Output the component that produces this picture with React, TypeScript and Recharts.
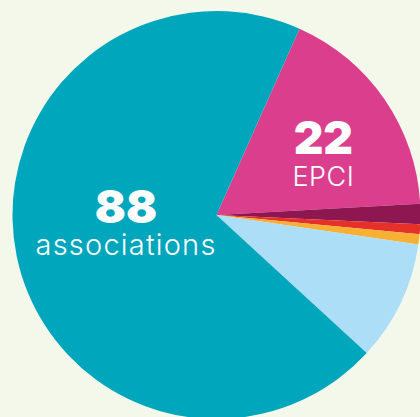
import React from "react";
import { PieChart, Pie, Cell } from "recharts";

const categories = ["EPCI", "Catégorie 2", "Catégorie 3", "Catégorie 4", "Catégorie 5", "associations"];
const values = [22, 2, 1, 1, 12, 88];
const colors = ["#dc3e8e", "#8e1752", "#e5312a", "#f7b033", "#addef8", "#00a6bb"];
const showLabel = [true, false, false, false, false, true];

const data = categories.map((name, i) => ({ name, value: values[i] }));

// label placement: fraction of radius and angle tweak relative to slice mid angle
const labelLayout: Record<string, { r: number; da: number; size: number; spacing: number }> = {
  EPCI: { r: 0.603, da: -4.9, size: 27, spacing: 0.5 },
  associations: { r: 0.445, da: -6.7, size: 29, spacing: 1.2 },
};

const RADIAN = Math.PI / 180;

const renderLabel = (props: any) => {
  const { cx, cy, midAngle, outerRadius, index } = props;
  if (!showLabel[index]) return null;
  const name = categories[index];
  const lay = labelLayout[name];
  const ang = (midAngle + lay.da) * RADIAN;
  const R = outerRadius * lay.r;
  const x = cx + R * Math.cos(-ang);
  const y = cy + R * Math.sin(-ang);
  return (
    <g>
      <text
        x={x}
        y={y}
        textAnchor="middle"
        fill="#ffffff"
        style={{ fontFamily: "Inter, sans-serif", fontWeight: 900, fontSize: 46 }}
      >
        {values[index]}
      </text>
      <text
        x={x}
        y={y + 32}
        textAnchor="middle"
        fill="#ffffff"
        style={{
          fontFamily: "Inter, sans-serif",
          fontWeight: 300,
          fontSize: lay.size,
          letterSpacing: lay.spacing,
        }}
      >
        {name}
      </text>
    </g>
  );
};

export default function App() {
  return (
    <div
      style={{
        position: "absolute",
        left: 0,
        top: 0,
        width: 420,
        height: 417,
        background: "#f4f8eb",
        overflow: "hidden",
      }}
    >
      <PieChart width={420} height={417} margin={{ top: 0, right: 0, bottom: 0, left: 0 }}>
        <Pie
          data={data}
          dataKey="value"
          nameKey="name"
          cx={216.5}
          cy={215}
          outerRadius={204}
          startAngle={66}
          endAngle={-294}
          stroke="none"
          isAnimationActive={false}
          labelLine={false}
          label={renderLabel}
        >
          {data.map((d, i) => (
            <Cell key={d.name} fill={colors[i]} />
          ))}
        </Pie>
      </PieChart>
    </div>
  );
}
